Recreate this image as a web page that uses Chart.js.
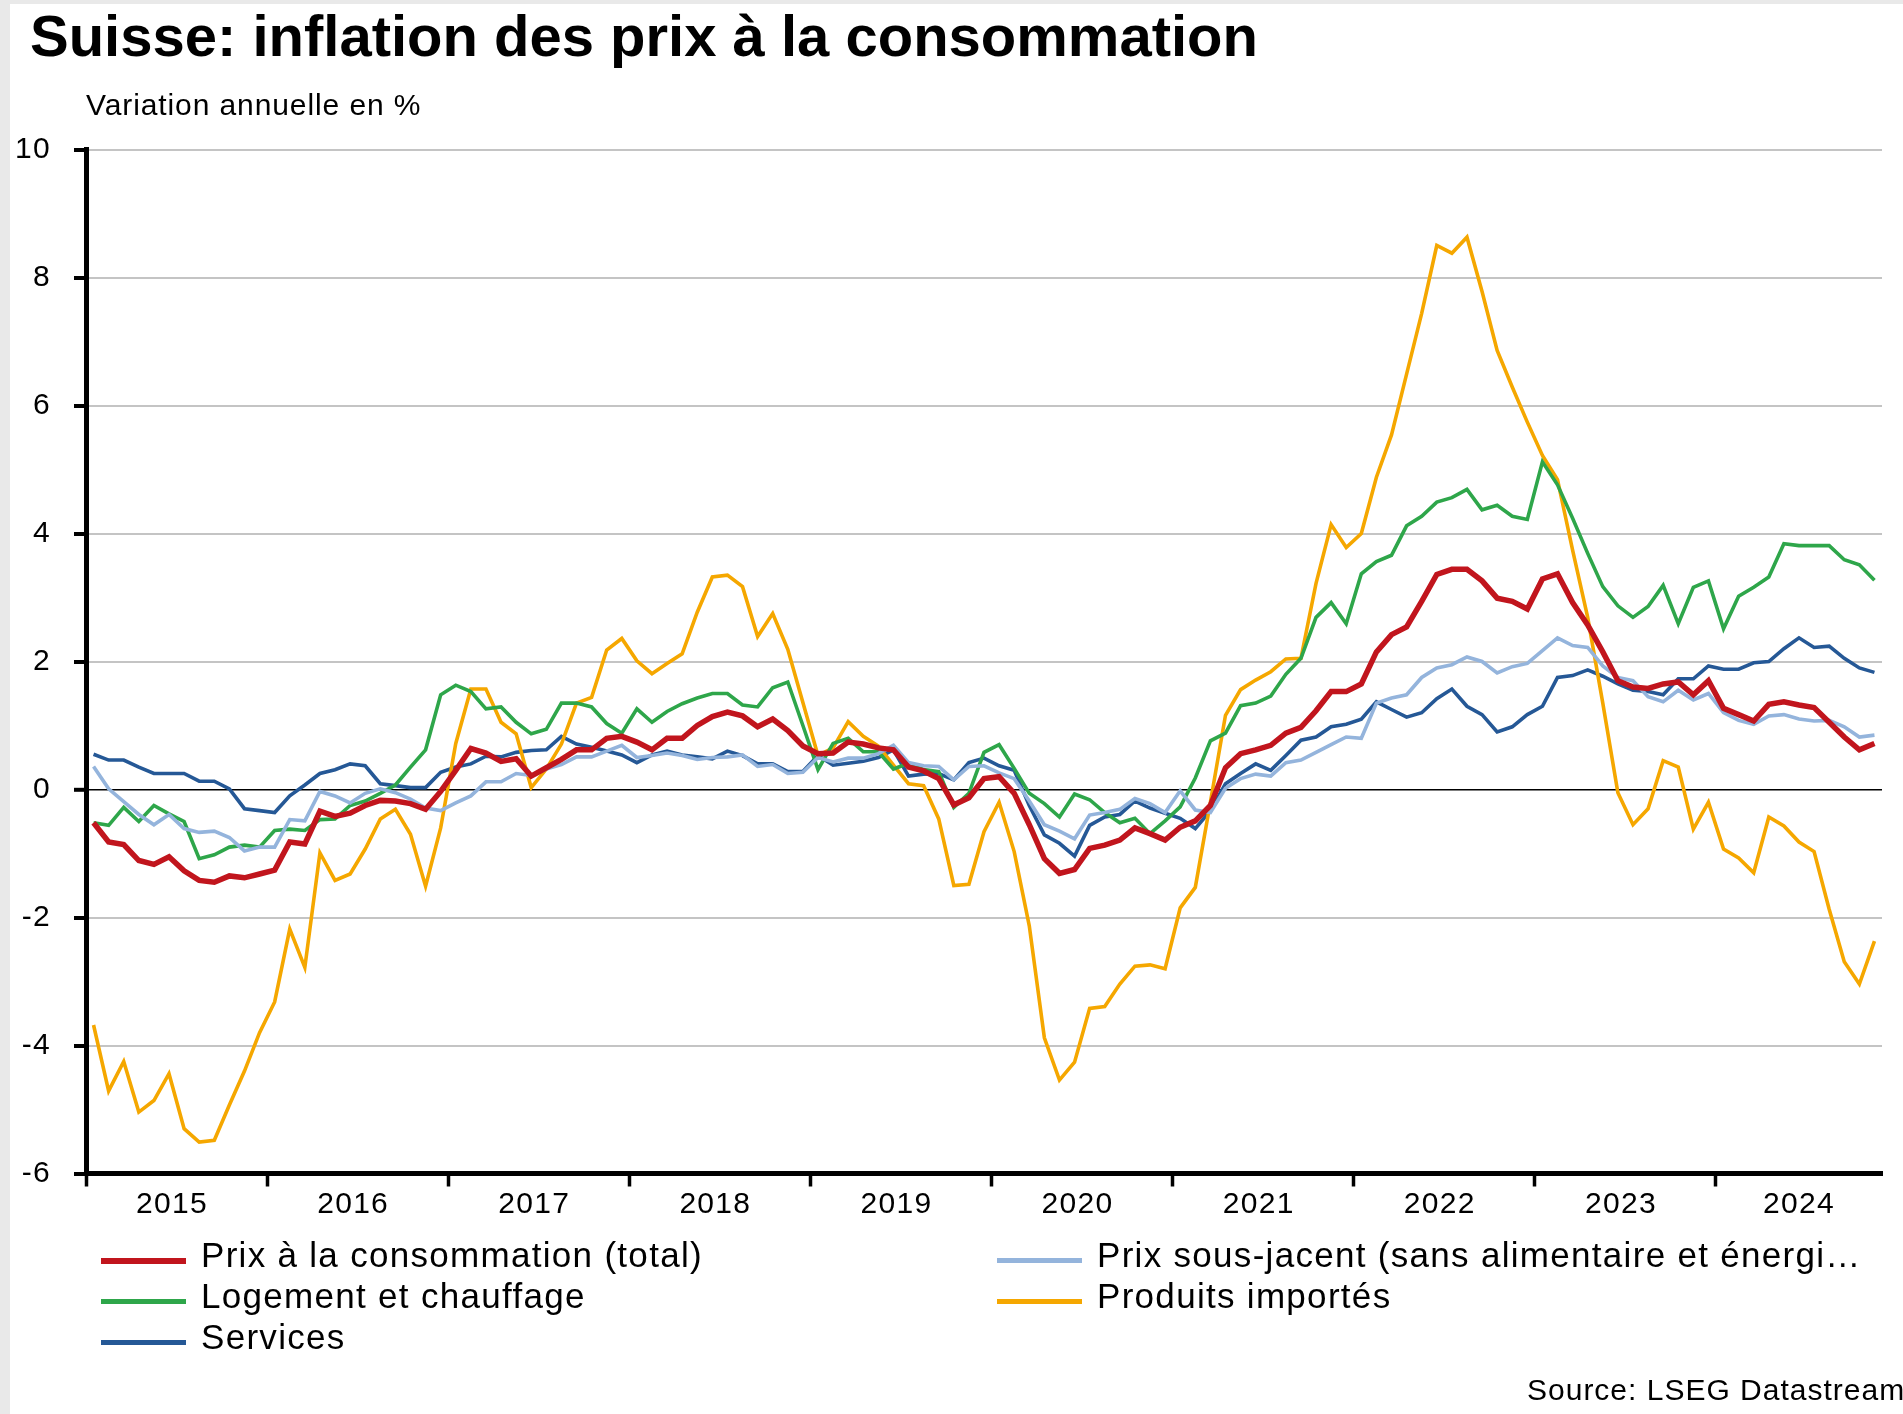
<!DOCTYPE html>
<html lang="fr">
<head>
<meta charset="utf-8">
<title>Suisse: inflation des prix à la consommation</title>
<script src="https://cdn.jsdelivr.net/npm/chart.js@4.4.1/dist/chart.umd.min.js"></script>
<style>
    html, body { margin: 0; padding: 0; background: #e9e9e9; }
    #page {
        position: relative; width: 1903px; height: 1414px; overflow: hidden;
        font-family: 'Liberation Sans', Arial, sans-serif; color: #000;
    }
    #panel { position: absolute; left: 10px; top: 4px; right: 0; bottom: 0; background: #fff; }
    #wrap { position: absolute; left: 0; top: 0; width: 1903px; height: 1414px; }
    .title {
        position: absolute; left: 30px; top: 3px; font-size: 58px; line-height: 65px;
        font-weight: bold; white-space: nowrap;
    }
    .subtitle {
        position: absolute; left: 86px; top: 88px; font-size: 30px; line-height: 34px;
        letter-spacing: 0.9px; white-space: nowrap;
    }
    .source {
        position: absolute; left: 1527px; top: 1373px; font-size: 30px; line-height: 34px;
        letter-spacing: 1px; white-space: nowrap;
    }
    #legend {
        position: absolute; left: 101px; top: 1234px; width: 1800px;
        display: grid; grid-template-columns: 896px 900px; grid-auto-rows: 41px;
    }
    .item { display: flex; align-items: center; white-space: nowrap; height: 41px; }
    .item .mark { width: 85px; margin-right: 15px; margin-top: 12px; }
    .item span { font-size: 35px; line-height: 41px; letter-spacing: 1.3px; }
</style>
</head>
<body>
<div id="page">
    <div id="panel"></div>
    <div id="wrap"><canvas id="inflationChart"></canvas></div>
    <div class="title">Suisse: inflation des prix à la consommation</div>
    <div class="subtitle">Variation annuelle en %</div>
    <div id="legend"></div>
    <div class="source">Source: LSEG Datastream</div>
</div>
<script>
// monthly data, Jan 2015 - Nov 2024
const years = ['2015', '2016', '2017', '2018', '2019', '2020', '2021', '2022', '2023', '2024'];

const prixTotal = [
    -0.52, -0.82, -0.86, -1.11, -1.17, -1.05, -1.27, -1.42, -1.45, -1.35, -1.38, -1.32,
    -1.26, -0.82, -0.85, -0.34, -0.42, -0.37, -0.25, -0.17, -0.18, -0.22, -0.31, -0.03,
    0.30, 0.64, 0.57, 0.44, 0.48, 0.21, 0.34, 0.47, 0.62, 0.62, 0.80, 0.83,
    0.74, 0.62, 0.80, 0.80, 1.00, 1.14, 1.21, 1.15, 0.98, 1.10, 0.92, 0.68,
    0.56, 0.57, 0.74, 0.71, 0.65, 0.62, 0.35, 0.29, 0.17, -0.24, -0.13, 0.17,
    0.20, -0.06, -0.55, -1.08, -1.31, -1.25, -0.92, -0.87, -0.79, -0.60, -0.69, -0.79,
    -0.59, -0.49, -0.25, 0.34, 0.56, 0.62, 0.69, 0.88, 0.97, 1.23, 1.53, 1.53,
    1.65, 2.15, 2.42, 2.54, 2.94, 3.36, 3.44, 3.44, 3.26, 2.99, 2.94, 2.82,
    3.29, 3.37, 2.92, 2.57, 2.15, 1.70, 1.60, 1.58, 1.65, 1.68, 1.48, 1.70,
    1.27, 1.17, 1.07, 1.33, 1.37, 1.32, 1.28, 1.05, 0.82, 0.62, 0.72
];

const prixSousJacent = [
    0.36, 0.01, -0.19, -0.39, -0.55, -0.39, -0.61, -0.67, -0.65, -0.75, -0.96, -0.90,
    -0.90, -0.47, -0.49, -0.03, -0.10, -0.21, -0.06, 0.01, -0.05, -0.15, -0.29, -0.33,
    -0.21, -0.10, 0.12, 0.12, 0.25, 0.22, 0.32, 0.39, 0.51, 0.51, 0.60, 0.69,
    0.50, 0.53, 0.57, 0.53, 0.47, 0.50, 0.51, 0.54, 0.36, 0.39, 0.25, 0.27,
    0.50, 0.43, 0.49, 0.49, 0.56, 0.69, 0.42, 0.37, 0.36, 0.15, 0.36, 0.37,
    0.26, 0.17, -0.18, -0.55, -0.65, -0.77, -0.40, -0.36, -0.31, -0.14, -0.22, -0.36,
    -0.02, -0.32, -0.36, 0.02, 0.17, 0.24, 0.21, 0.42, 0.46, 0.58, 0.70, 0.82,
    0.80, 1.35, 1.43, 1.48, 1.75, 1.90, 1.95, 2.07, 2.00, 1.82, 1.92, 1.97,
    2.17, 2.37, 2.25, 2.22, 1.93, 1.75, 1.70, 1.45, 1.37, 1.55, 1.40, 1.50,
    1.20, 1.08, 1.02, 1.15, 1.17, 1.10, 1.07, 1.08, 0.98, 0.82, 0.85
];

const logement = [
    -0.52, -0.56, -0.28, -0.50, -0.25, -0.38, -0.50, -1.08, -1.02, -0.90, -0.87, -0.90,
    -0.64, -0.62, -0.64, -0.47, -0.46, -0.25, -0.18, -0.06, 0.07, 0.35, 0.62, 1.48,
    1.63, 1.53, 1.26, 1.29, 1.05, 0.87, 0.94, 1.35, 1.35, 1.29, 1.03, 0.88,
    1.26, 1.05, 1.22, 1.34, 1.43, 1.50, 1.50, 1.32, 1.29, 1.59, 1.68, 1.00,
    0.31, 0.72, 0.80, 0.59, 0.59, 0.32, 0.41, 0.31, 0.28, -0.28, -0.06, 0.58,
    0.70, 0.33, -0.06, -0.22, -0.43, -0.07, -0.16, -0.36, -0.52, -0.45, -0.69, -0.49,
    -0.27, 0.18, 0.76, 0.88, 1.31, 1.35, 1.46, 1.80, 2.05, 2.69, 2.92, 2.59,
    3.37, 3.56, 3.66, 4.12, 4.27, 4.49, 4.56, 4.69, 4.37, 4.44, 4.27, 4.22,
    5.12, 4.76, 4.24, 3.69, 3.17, 2.87, 2.69, 2.86, 3.19, 2.59, 3.16, 3.26,
    2.51, 3.02, 3.16, 3.32, 3.84, 3.81, 3.81, 3.81, 3.59, 3.51, 3.27
];

const importes = [
    -3.68, -4.71, -4.25, -5.04, -4.86, -4.44, -5.30, -5.51, -5.48, -4.93, -4.40, -3.80,
    -3.32, -2.18, -2.78, -0.99, -1.42, -1.32, -0.93, -0.46, -0.31, -0.70, -1.51, -0.60,
    0.72, 1.57, 1.57, 1.05, 0.87, 0.03, 0.32, 0.71, 1.35, 1.44, 2.18, 2.36,
    2.01, 1.81, 1.97, 2.12, 2.77, 3.32, 3.35, 3.17, 2.39, 2.75, 2.19, 1.36,
    0.53, 0.65, 1.06, 0.83, 0.68, 0.38, 0.09, 0.06, -0.46, -1.50, -1.48, -0.66,
    -0.20, -0.97, -2.13, -3.88, -4.54, -4.26, -3.42, -3.39, -3.04, -2.76, -2.74, -2.80,
    -1.85, -1.53, -0.20, 1.16, 1.56, 1.71, 1.84, 2.04, 2.05, 3.22, 4.14, 3.78,
    4.00, 4.88, 5.54, 6.49, 7.44, 8.50, 8.38, 8.63, 7.78, 6.86, 6.29, 5.74,
    5.22, 4.84, 3.74, 2.69, 1.35, -0.05, -0.55, -0.30, 0.45, 0.35, -0.62, -0.20,
    -0.93, -1.07, -1.30, -0.43, -0.57, -0.82, -0.97, -1.87, -2.69, -3.04, -2.37
];

const services = [
    0.55, 0.46, 0.46, 0.35, 0.25, 0.25, 0.25, 0.13, 0.13, 0.01, -0.30, -0.33,
    -0.36, -0.10, 0.07, 0.25, 0.31, 0.40, 0.37, 0.09, 0.06, 0.03, 0.03, 0.27,
    0.35, 0.40, 0.52, 0.51, 0.58, 0.61, 0.62, 0.83, 0.71, 0.66, 0.60, 0.54,
    0.42, 0.54, 0.60, 0.54, 0.51, 0.48, 0.60, 0.53, 0.40, 0.40, 0.28, 0.28,
    0.53, 0.38, 0.41, 0.44, 0.50, 0.62, 0.21, 0.24, 0.25, 0.15, 0.42, 0.49,
    0.37, 0.30, -0.25, -0.71, -0.84, -1.04, -0.56, -0.43, -0.39, -0.18, -0.29, -0.37,
    -0.45, -0.61, -0.33, 0.09, 0.25, 0.40, 0.30, 0.53, 0.77, 0.82, 0.98, 1.02,
    1.10, 1.37, 1.25, 1.13, 1.20, 1.42, 1.57, 1.30, 1.17, 0.90, 0.98, 1.17,
    1.30, 1.75, 1.78, 1.87, 1.77, 1.65, 1.55, 1.53, 1.48, 1.73, 1.73, 1.93,
    1.88, 1.88, 1.98, 2.00, 2.20, 2.37, 2.22, 2.24, 2.05, 1.90, 1.83
];

const seriesLabels = [
    'Prix à la consommation (total)',
    'Prix sous-jacent (sans alimentaire et énergi…',
    'Logement et chauffage',
    'Produits importés',
    'Services'
];

const yTicks = [-6, -4, -2, 0, 2, 4, 6, 8, 10];

// x ticks: year boundaries get a tick mark, mid-year gets the year label
const boundaryTicks = years.map((y, i) => i * 12 - 0.5);
const labelTicks = years.map((y, i) => i < years.length - 1 ? i * 12 + 5.2 : i * 12 + 5.0);
const lastIndex = prixTotal.length - 1;

const colors = ['#c1151d', '#94b4dc', '#2ea64a', '#f5a700', '#255896'];
const widths = [5.5, 3.6, 3.6, 3.6, 3.6];
const allSeries = [prixTotal, prixSousJacent, logement, importes, services];

const FONT = "'Liberation Sans', Arial, sans-serif";

const spacing = {
    id: 'spacing',
    beforeUpdate(chart) { chart.ctx.letterSpacing = '1.3px'; },
    beforeDraw(chart) { chart.ctx.letterSpacing = '1.3px'; }
};

document.addEventListener('DOMContentLoaded', function () {
    const canvas = document.getElementById('inflationChart');
    const ctx = canvas.getContext('2d');

    const datasets = allSeries.map((values, i) => ({
        label: seriesLabels[i],
        data: values.map((v, k) => ({ x: k, y: v })),
        borderColor: colors[i],
        backgroundColor: colors[i],
        borderWidth: widths[i],
        pointRadius: 0,
        tension: 0,
        fill: false
    }));

    const chart = new Chart(ctx, {
        type: 'line',
        data: { datasets: datasets },
        plugins: [spacing],
        options: {
            responsive: true,
            maintainAspectRatio: false,
            animation: false,
            events: [],
            layout: { padding: { top: 149.5, right: 21, left: 0, bottom: 0 } },
            plugins: {
                legend: { display: false },
                tooltip: { enabled: false },
                title: { display: false }
            },
            scales: {
                x: {
                    type: 'linear',
                    min: -0.5,
                    max: lastIndex + 0.5,
                    afterBuildTicks: scale => {
                        scale.ticks = boundaryTicks.concat(labelTicks)
                            .sort((a, b) => a - b)
                            .map(v => ({ value: v }));
                    },
                    afterFit: scale => { scale.height = 1414 - 1173.5; },
                    border: { display: true, color: '#000', width: 5 },
                    grid: {
                        drawOnChartArea: false,
                        drawTicks: true,
                        tickLength: 13,
                        tickWidth: 3.5,
                        tickColor: c => boundaryTicks.includes(c.tick.value) ? '#000' : 'rgba(0,0,0,0)'
                    },
                    ticks: {
                        autoSkip: false,
                        maxRotation: 0,
                        padding: 0,
                        color: '#000',
                        font: { family: FONT, size: 30 },
                        callback: value => {
                            const i = labelTicks.indexOf(value);
                            return i >= 0 ? years[i] : '';
                        }
                    }
                },
                y: {
                    min: -6,
                    max: 10,
                    afterBuildTicks: scale => { scale.ticks = yTicks.map(v => ({ value: v })); },
                    afterFit: scale => { scale.width = 86; },
                    border: { display: true, color: '#000', width: 5 },
                    grid: {
                        color: c => c.tick.value === 0 ? '#000' : '#c4c4c4',
                        lineWidth: c => c.tick.value === 0 ? 1.6 : 2,
                        drawTicks: true,
                        tickLength: 12,
                        tickWidth: 4,
                        tickColor: '#000'
                    },
                    ticks: {
                        padding: 23,
                        color: '#000',
                        font: { family: FONT, size: 30 }
                    }
                }
            }
        }
    });

    // legend, two columns, built from the datasets
    const legend = document.getElementById('legend');
    chart.data.datasets.forEach(ds => {
        const item = document.createElement('div');
        item.className = 'item';
        const mark = document.createElement('div');
        mark.className = 'mark';
        mark.style.height = (ds.borderWidth >= 5 ? 6 : 4.5) + 'px';
        mark.style.background = ds.borderColor;
        const text = document.createElement('span');
        text.textContent = ds.label;
        item.appendChild(mark);
        item.appendChild(text);
        legend.appendChild(item);
    });
});
</script>
</body>
</html>
